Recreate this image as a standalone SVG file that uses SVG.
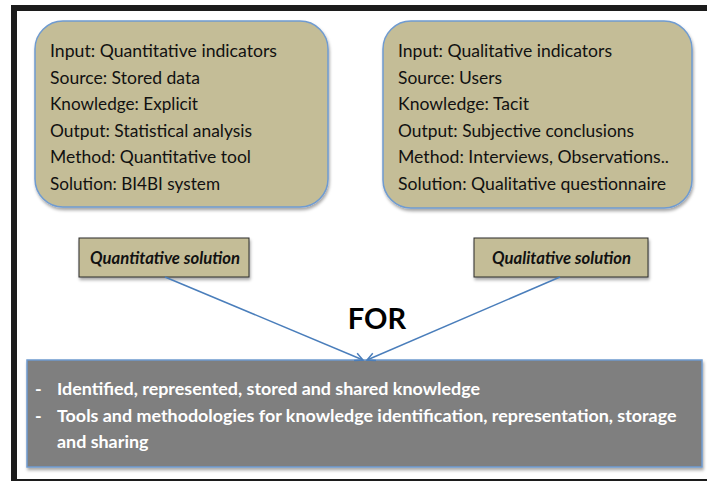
<svg xmlns="http://www.w3.org/2000/svg" width="707" height="481" viewBox="0 0 707 481">
<defs>
<style>
.tan{fill:#c4bd97;stroke:#6f9bd0;stroke-width:1.5}
.lbl{fill:#c4bd97;stroke:#2b2b2b;stroke-width:1}
.t{font-family:Lato,"Open Sans",sans-serif;font-size:18px;fill:#111}
.bi{font-family:Lato,"Open Sans",sans-serif;font-size:16.7px;font-weight:bold;font-style:italic;fill:#111}
.w{font-family:Lato,"Open Sans",sans-serif;font-size:17.9px;font-weight:bold;fill:#fff}
.c{stroke:#4a7ebb;stroke-width:1.5;fill:none}
</style>
<filter id="sh" x="-10%" y="-10%" width="120%" height="130%">
<feDropShadow dx="1" dy="2.5" stdDeviation="1.8" flood-color="#000" flood-opacity="0.35"/>
</filter>
<marker id="ah" viewBox="0 0 10 10" refX="9" refY="5" markerWidth="10" markerHeight="10" markerUnits="userSpaceOnUse" orient="auto">
<path d="M1,1 L9,5 L1,9" fill="none" stroke="#4a7ebb" stroke-width="1.5"/>
</marker>
</defs>
<rect x="0" y="0" width="707" height="481" fill="#fff"/>
<path d="M11 5 H707 V11 H17 V479 H707 V481 H11 Z" fill="#1c1c1c"/>
<g id="quantitative-box">
<rect class="tan" x="35" y="21" width="293" height="186" rx="28" filter="url(#sh)"/>
<text class="t" x="50" y="57" textLength="227" lengthAdjust="spacingAndGlyphs">Input: Quantitative indicators</text>
<text class="t" x="50" y="83.6" textLength="150" lengthAdjust="spacingAndGlyphs">Source: Stored data</text>
<text class="t" x="50" y="110.2" textLength="148" lengthAdjust="spacingAndGlyphs">Knowledge: Explicit</text>
<text class="t" x="50" y="136.8" textLength="202" lengthAdjust="spacingAndGlyphs">Output: Statistical analysis</text>
<text class="t" x="50" y="163.4" textLength="201" lengthAdjust="spacingAndGlyphs">Method: Quantitative tool</text>
<text class="t" x="50" y="190" textLength="170" lengthAdjust="spacingAndGlyphs">Solution: BI4BI system</text>
</g>
<g id="qualitative-box">
<rect class="tan" x="383" y="21" width="309" height="187" rx="28" filter="url(#sh)"/>
<text class="t" x="398" y="57" textLength="214" lengthAdjust="spacingAndGlyphs">Input: Qualitative indicators</text>
<text class="t" x="398" y="83.6" textLength="104" lengthAdjust="spacingAndGlyphs">Source: Users</text>
<text class="t" x="398" y="110.2" textLength="131" lengthAdjust="spacingAndGlyphs">Knowledge: Tacit</text>
<text class="t" x="398" y="136.8" textLength="236" lengthAdjust="spacingAndGlyphs">Output: Subjective conclusions</text>
<text class="t" x="398" y="163.4" textLength="271" lengthAdjust="spacingAndGlyphs">Method: Interviews, Observations..</text>
<text class="t" x="398" y="190" textLength="268" lengthAdjust="spacingAndGlyphs">Solution: Qualitative questionnaire</text>
</g>
<g id="quantitative-solution">
<rect class="lbl" x="79" y="238" width="170" height="39" filter="url(#sh)"/>
<text class="bi" x="165" y="264" text-anchor="middle">Quantitative solution</text>
</g>
<g id="qualitative-solution">
<rect class="lbl" x="474" y="238" width="174" height="39" filter="url(#sh)"/>
<text class="bi" x="561.5" y="264" text-anchor="middle">Qualitative solution</text>
</g>
<g id="result-box">
<rect x="27" y="360" width="675" height="107" fill="#7f7f7f" stroke="#6f9bd0" stroke-width="1.5" filter="url(#sh)"/>
<text class="w" x="35" y="395">-</text>
<text class="w" x="57" y="395">Identified, represented, stored and shared knowledge</text>
<text class="w" x="35" y="421.5">-</text>
<text class="w" x="57" y="421.5">Tools and methodologies for knowledge identification, representation, storage</text>
<text class="w" x="57" y="448">and sharing</text>
</g>
<g id="connectors">
<line class="c" x1="165" y1="277" x2="363" y2="360" marker-end="url(#ah)"/>
<line class="c" x1="560" y1="277" x2="367" y2="360" marker-end="url(#ah)"/>
</g>
<text x="377" y="329" text-anchor="middle" font-family="Lato,'Open Sans',sans-serif" font-size="29" font-weight="bold" fill="#000">FOR</text>
</svg>
